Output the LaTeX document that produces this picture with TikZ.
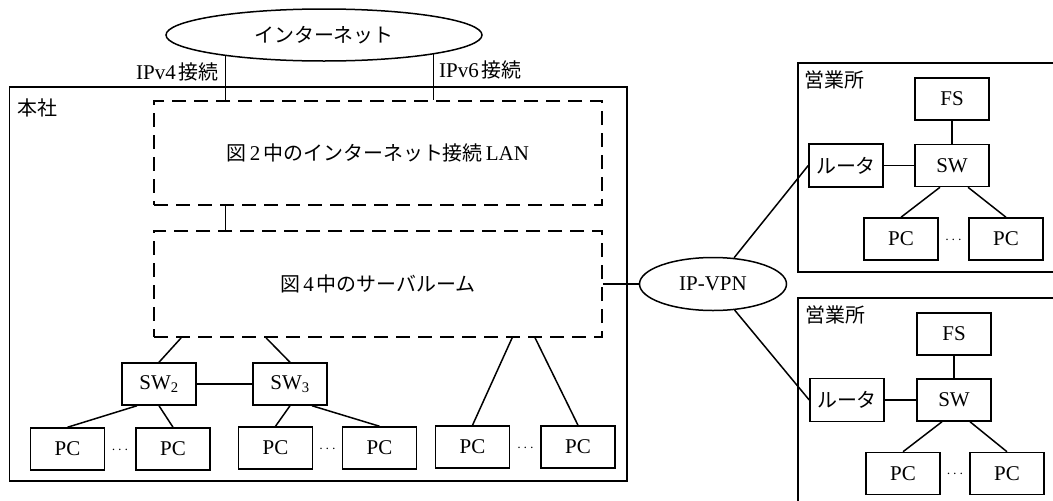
\documentclass[tikz,border=0pt]{standalone}
\usepackage{fontspec}
\setmainfont{Liberation Serif}
\newfontfamily\jp[Scale=0.95]{Noto Sans CJK JP}
\usetikzlibrary{shapes.geometric}

\begin{document}
\begin{tikzpicture}[x=1pt,y=-1pt,
  every node/.style={font=\fontsize{21}{24}\selectfont, inner sep=0pt},
  link/.style={line width=1.5pt},
  box/.style={draw, line width=1.5pt, minimum width=74pt, minimum height=42pt},
  dbox/.style={draw, line width=1.8pt, dash pattern=on 14pt off 8pt},
  hqframe/.style={draw, line width=1.5pt},
  netcloud/.style={ellipse, draw, line width=1.5pt},
  gapdots/.style={font=\fontsize{15}{16}\selectfont}
]
\useasboundingbox (0,0) rectangle (1053,501);
\clip (0,0) rectangle (1053,501);
\fill[white] (0,0) rectangle (1053,501);

% ---------------- Internet and head office ----------------
\node[netcloud, minimum width=316pt, minimum height=52pt] (net) at (324,35) {\jp インターネット};

\node[hqframe, minimum width=617.5pt, minimum height=394pt] (hq) at (318.25,284) {};
\node (hqname) at (37,108) {\jp 本社};

\node[dbox, minimum width=448pt, minimum height=104pt] (lan) at (378,153)
  {{\jp 図}\hspace{3pt}2\hspace{3pt}{\jp 中のインターネット接続}\hspace{3pt}LAN};
\node[dbox, minimum width=448pt, minimum height=106pt] (srv) at (378,284)
  {{\jp 図}\hspace{3pt}4\hspace{3pt}{\jp 中のサーバルーム}};

\node[anchor=east] (v4lbl) at (219,72) {IPv4\hspace{3pt}{\jp 接続}};
\node[anchor=west] (v6lbl) at (439,70) {IPv6\hspace{3pt}{\jp 接続}};

\draw[link] (net.192) -- (lan.north -| net.192);
\draw[link] (net.350) -- (lan.north -| net.350);
\draw[link] (lan.south -| net.192) -- (srv.north -| net.192);

% floor switches and PCs
\node[box] (swa) at (159,384) {SW\textsubscript{2}};
\node[box] (swb) at (290,384) {SW\textsubscript{3}};

\node[box] (pc1) at (67.5,449) {PC};
\node[box] (pc2) at (173,449) {PC};
\node[box] (pc3) at (275.5,448) {PC};
\node[box] (pc4) at (379.5,448) {PC};
\node[box] (pc5) at (472.5,447) {PC};
\node[box] (pc6) at (578,447) {PC};

\node[gapdots] (dA) at (120,450) {$\cdots$};
\node[gapdots] (dB) at (327.5,449) {$\cdots$};
\node[gapdots] (dC) at (525.5,448) {$\cdots$};

\draw[link] ([xshift=28pt]srv.south west) -- (swa.north);
\draw[link] ([xshift=113pt]srv.south west) -- (swb.north);
\draw[link] (swa) -- (swb);
\draw[link] ([xshift=-22pt]swa.south) -- (pc1.north);
\draw[link] (swa.south) -- (pc2.north);
\draw[link] (swb.south) -- (pc3.north);
\draw[link] ([xshift=22pt]swb.south) -- (pc4.north);
\draw[link] ([xshift=359pt]srv.south west) -- (pc5.north);
\draw[link] ([xshift=382pt]srv.south west) -- (pc6.north);

% ---------------- IP-VPN ----------------
\node[netcloud, minimum width=147pt, minimum height=53pt] (vpn) at (713,284) {IP-VPN};
\draw[link] (srv) -- (vpn);

% ---------------- branch office 1 ----------------
\node[hqframe, minimum width=280pt, minimum height=209pt, anchor=north west] (br1) at (797,62) {};
\node[anchor=west] (br1name) at (804,80) {\jp 営業所};
\node[box] (fs1) at (952,99) {FS};
\node[box] (sw1) at (952,165.5) {SW};
\node[box, minimum height=43pt] (rt1) at (846,165.5) {\jp ルータ};
\node[box] (pa1) at (901,239) {PC};
\node[box] (pb1) at (1006,239) {PC};
\node[gapdots] (d1) at (953.5,240) {$\cdots$};
\draw[link] (fs1) -- (sw1);
\draw[link] (rt1) -- (sw1);
\draw[link] ([xshift=-12pt]sw1.south) -- (pa1.north);
\draw[link] ([xshift=16pt]sw1.south) -- (pb1.north);

% ---------------- branch office 2 ----------------
\node[hqframe, minimum width=280pt, minimum height=209pt, anchor=north west] (br2) at (797,297) {};
\node[anchor=west] (br2name) at (805,315) {\jp 営業所};
\node[box] (fs2) at (954,334) {FS};
\node[box] (sw2) at (954,400) {SW};
\node[box, minimum height=43pt] (rt2) at (847,400) {\jp ルータ};
\node[box] (pa2) at (903,473.5) {PC};
\node[box] (pb2) at (1007,473.5) {PC};
\node[gapdots] (d2) at (955,474) {$\cdots$};
\draw[link] (fs2) -- (sw2);
\draw[link] (rt2) -- (sw2);
\draw[link] ([xshift=-12pt]sw2.south) -- (pa2.north);
\draw[link] ([xshift=16pt]sw2.south) -- (pb2.north);

\draw[link] (vpn) -- (rt1.west);
\draw[link] (vpn) -- (rt2.west);
\end{tikzpicture}
\end{document}
